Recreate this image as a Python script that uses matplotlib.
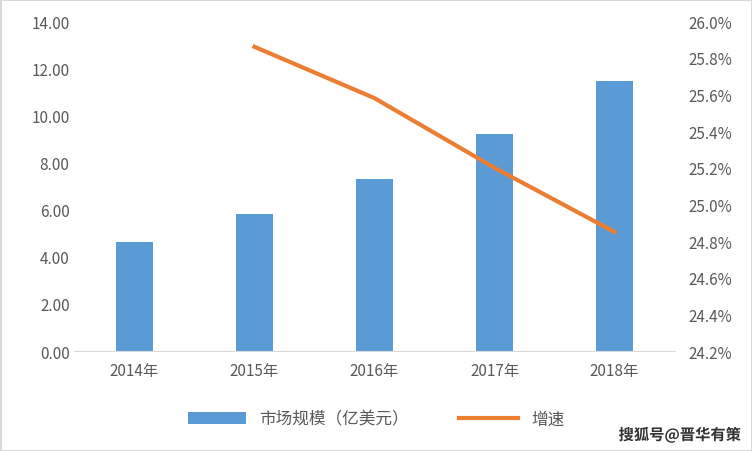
import matplotlib
matplotlib.use("Agg")
import matplotlib.pyplot as plt
import matplotlib.patheffects as pe
from matplotlib.ticker import FuncFormatter, MultipleLocator

plt.rcParams['font.family'] = ['Noto Sans CJK SC', 'DejaVu Sans']

years = ["2014年", "2015年", "2016年", "2017年", "2018年"]
market = [4.62, 5.82, 7.32, 9.20, 11.45]
growth_years = ["2015年", "2016年", "2017年", "2018年"]
growth = [25.86, 25.58, 25.20, 24.85]

fig = plt.figure(figsize=(7.52, 4.52), dpi=100)
ax = fig.add_axes([0.099, 0.221, 0.798, 0.73])
x = list(range(len(years)))
ax.bar(x, market, width=0.31, color="#5B9BD5", label="市场规模（亿美元）", zorder=2)
ax.set_ylim(0, 14)
ax.yaxis.set_major_locator(MultipleLocator(2))
ax.yaxis.set_major_formatter(FuncFormatter(lambda v, p: f"{v:.2f}"))
ax.set_xlim(-0.5, 4.5)
ax.set_xticks(x)
ax.set_xticklabels(years)
for s in ["top", "right", "left"]:
    ax.spines[s].set_visible(False)
ax.spines["bottom"].set_color("#D9D9D9")
ax.tick_params(length=0, colors="#595959", labelsize=11)
ax.tick_params(axis='x', pad=8)

ax2 = ax.twinx()
gx = [years.index(y) for y in growth_years]
ax2.plot(gx, growth, color="#ED7D31", lw=3, label="增速", zorder=3)
ax2.set_ylim(24.2, 26.0)
ax2.yaxis.set_major_locator(MultipleLocator(0.2))
ax2.yaxis.set_major_formatter(FuncFormatter(lambda v, p: f"{v:.1f}%"))
for s in ax2.spines.values():
    s.set_visible(False)
ax2.tick_params(length=0, colors="#595959", labelsize=11, pad=10)

h1, l1 = ax.get_legend_handles_labels()
h2, l2 = ax2.get_legend_handles_labels()
fig.legend(h1 + h2, l1 + l2, loc="center", bbox_to_anchor=(0.5, 0.07), ncol=2,
           frameon=False, fontsize=12, labelcolor="#595959", columnspacing=3,
           handlelength=3.5)
t = fig.text(0.985, 0.035, "搜狐号@晋华有策", ha="right", va="center", fontsize=11,
             color="#333333", fontweight="bold")
t.set_path_effects([pe.withStroke(linewidth=2, foreground="white")])
fig.patch.set_edgecolor("#D9D9D9")
fig.patch.set_linewidth(1)
fig.savefig("out.png", dpi=100)
